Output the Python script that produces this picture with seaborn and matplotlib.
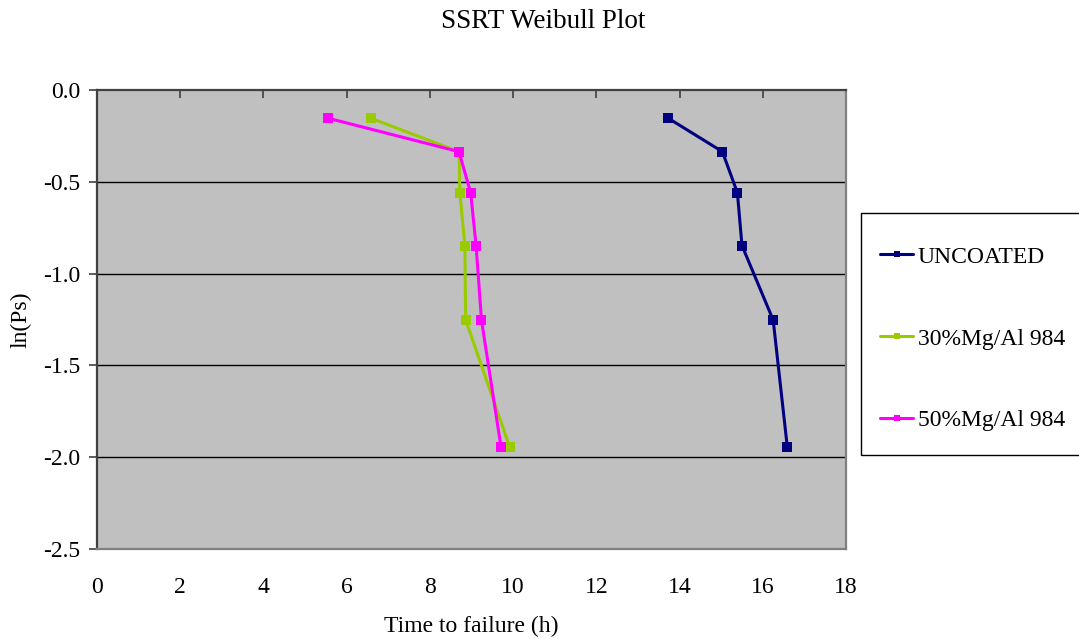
import numpy as np
import pandas as pd
import matplotlib
matplotlib.use("Agg")
import matplotlib.pyplot as plt
from matplotlib.patches import Rectangle
import seaborn as sns

# Weibull plot data: time to failure (h) against ln of survival probability
series_names = ["UNCOATED", "30%Mg/Al 984", "50%Mg/Al 984"]
ln_ps = [-0.154, -0.336, -0.560, -0.847, -1.253, -1.946]
time_uncoated = [13.73, 15.03, 15.39, 15.50, 16.25, 16.59]
time_30mg = [6.58, 8.70, 8.72, 8.84, 8.86, 9.92]
time_50mg = [5.56, 8.70, 8.98, 9.11, 9.24, 9.71]
series_colors = ["#000080", "#99CC00", "#FF00FF"]
x_ticks = [0, 2, 4, 6, 8, 10, 12, 14, 16, 18]
y_ticks = [0.0, -0.5, -1.0, -1.5, -2.0, -2.5]

frames = []
for name, times in zip(series_names, [time_uncoated, time_30mg, time_50mg]):
    frames.append(pd.DataFrame({"time": times, "lnps": ln_ps, "series": name}))
df = pd.concat(frames, ignore_index=True)

sns.set_style("white")
plt.rcParams["font.family"] = ["Liberation Serif", "DejaVu Serif"]
plt.rcParams["text.color"] = "#000000"
plt.rcParams["xtick.color"] = "#000000"
plt.rcParams["ytick.color"] = "#000000"
plt.rcParams["axes.labelcolor"] = "#000000"

W, H = 1079, 639
fig = plt.figure(figsize=(W / 100, H / 100), dpi=100)
ax = fig.add_axes([97 / W, 1 - 549 / H, (846 - 97) / W, (549 - 90) / H])
ax.set_facecolor("#C0C0C0")

sns.lineplot(data=df, x="time", y="lnps", hue="series", hue_order=series_names,
             palette=series_colors, sort=False, estimator=None, marker="s",
             markersize=6.5, markeredgewidth=0, linewidth=2.2, ax=ax, legend=False,
             zorder=3)

ax.set_xlim(0, 18)
ax.set_ylim(-2.5, 0.0)
ax.set_xticks(x_ticks)
ax.set_xticklabels([str(t) for t in x_ticks])
ax.set_yticks(y_ticks)
ax.set_yticklabels([f"{t:.1f}" for t in y_ticks])

# horizontal gridlines
for yv in [-0.5, -1.0, -1.5, -2.0]:
    ax.axhline(yv, color="#000000", linewidth=1.0, zorder=1)

# axis at y=0 on top with inward ticks; labels stay at the bottom
ax.tick_params(axis="x", bottom=False, top=True, direction="in", length=6,
               width=1.2, color="#404040", labelbottom=True, labeltop=False,
               pad=20, labelsize=17)
ax.tick_params(axis="y", left=True, direction="out", length=6, width=1.2,
               color="#404040", pad=6, labelsize=17)

for side in ["top", "left"]:
    ax.spines[side].set_color("#404040")
    ax.spines[side].set_linewidth(1.6)
for side in ["bottom", "right"]:
    ax.spines[side].set_color("#808080")
    ax.spines[side].set_linewidth(1.6)

ax.set_xlabel("Time to failure (h)", fontsize=17, labelpad=13)
ax.set_ylabel("ln(Ps)", fontsize=17, labelpad=8)

fig.text(0.503, 1 - 22 / H, "SSRT Weibull Plot", ha="center", va="center",
         fontsize=19.5)

# legend box (runs off the right edge of the figure)
fig.patches.append(Rectangle((861 / W, 1 - 455 / H), 300 / W, (455 - 213) / H,
                             transform=fig.transFigure, facecolor="white",
                             edgecolor="#000000", linewidth=1.0, zorder=0))

handles = [plt.Line2D([], [], color=c, marker="s", markersize=5, linewidth=2.2,
                      markeredgewidth=0) for c in series_colors]
leg = fig.legend(handles, series_names, loc="upper left",
                 bbox_to_anchor=(880 / W, 1 - 246 / H),
                 fontsize=17, frameon=False, labelspacing=2.56, handlelength=1.4,
                 handletextpad=0.2, borderpad=0, borderaxespad=0)

fig.savefig("out.png", dpi=100)
